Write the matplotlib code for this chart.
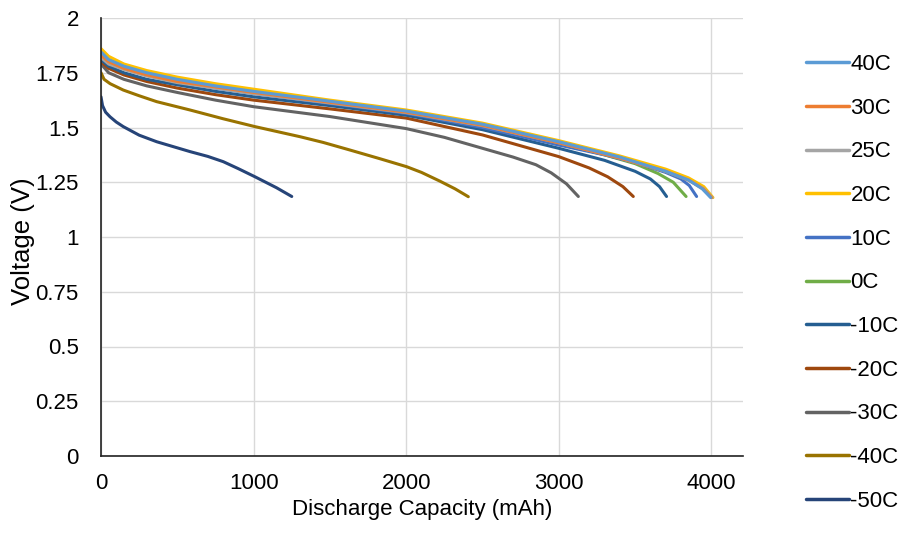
import matplotlib
matplotlib.use("Agg")
import matplotlib.pyplot as plt

plt.rcParams['font.family'] = ['Liberation Sans', 'DejaVu Sans']

labels = ["40C", "30C", "25C", "20C", "10C", "0C", "-10C", "-20C", "-30C", "-40C", "-50C"]
colors = ["#5B9BD5", "#ED7D31", "#A5A5A5", "#FFC000", "#4472C4", "#70AD47",
          "#255E91", "#9E480E", "#636363", "#997300", "#264478"]

cap_40 = [0, 50, 150, 300, 500, 750, 1000, 1500, 2000, 2500, 3000, 3400, 3700, 3850, 3940, 3995]
v_40 = [1.845, 1.81, 1.78, 1.75, 1.72, 1.69, 1.665, 1.62, 1.575, 1.515, 1.435, 1.365, 1.30, 1.26, 1.22, 1.18]
cap_30 = [0, 50, 150, 300, 500, 750, 1000, 1500, 2000, 2500, 3000, 3400, 3700, 3850, 3945, 4000]
v_30 = [1.83, 1.80, 1.77, 1.74, 1.71, 1.685, 1.66, 1.615, 1.57, 1.51, 1.43, 1.36, 1.30, 1.26, 1.22, 1.18]
cap_25 = [0, 50, 150, 300, 500, 750, 1000, 1500, 2000, 2500, 3000, 3400, 3700, 3850, 3950, 4005]
v_25 = [1.82, 1.79, 1.765, 1.735, 1.705, 1.68, 1.655, 1.612, 1.568, 1.508, 1.43, 1.36, 1.30, 1.26, 1.22, 1.18]
cap_20 = [0, 50, 150, 300, 500, 750, 1000, 1500, 2000, 2500, 3000, 3400, 3700, 3850, 3950, 4010]
v_20 = [1.86, 1.825, 1.79, 1.76, 1.73, 1.70, 1.675, 1.625, 1.58, 1.52, 1.44, 1.37, 1.31, 1.27, 1.23, 1.18]
cap_10 = [0, 50, 150, 300, 500, 750, 1000, 1500, 2000, 2500, 3000, 3300, 3500, 3700, 3800, 3855, 3903]
v_10 = [1.83, 1.80, 1.77, 1.74, 1.71, 1.68, 1.655, 1.61, 1.565, 1.50, 1.42, 1.375, 1.34, 1.295, 1.265, 1.235, 1.185]
cap_0 = [0, 50, 150, 300, 500, 750, 1000, 1500, 2000, 2500, 3000, 3300, 3500, 3650, 3750, 3834]
v_0 = [1.845, 1.81, 1.78, 1.745, 1.715, 1.685, 1.66, 1.615, 1.572, 1.505, 1.428, 1.375, 1.335, 1.29, 1.25, 1.185]
cap_m10 = [0, 50, 150, 300, 500, 750, 1000, 1500, 2000, 2500, 3000, 3300, 3500, 3600, 3660, 3706]
v_m10 = [1.81, 1.78, 1.75, 1.72, 1.695, 1.665, 1.64, 1.60, 1.556, 1.49, 1.405, 1.35, 1.30, 1.265, 1.23, 1.185]
cap_m20 = [0, 50, 150, 300, 500, 750, 1000, 1500, 2000, 2500, 3000, 3200, 3320, 3420, 3488]
v_m20 = [1.80, 1.77, 1.74, 1.71, 1.68, 1.65, 1.625, 1.585, 1.543, 1.466, 1.367, 1.315, 1.275, 1.23, 1.185]
cap_m30 = [0, 50, 150, 300, 500, 750, 1000, 1500, 2000, 2250, 2500, 2700, 2850, 2950, 3050, 3128]
v_m30 = [1.79, 1.75, 1.72, 1.69, 1.66, 1.625, 1.595, 1.55, 1.495, 1.455, 1.405, 1.365, 1.33, 1.293, 1.243, 1.185]
cap_m40 = [0, 20, 60, 146, 250, 365, 583, 800, 1009, 1304, 1455, 1632, 1830, 2003, 2100, 2221, 2320, 2407]
v_m40 = [1.75, 1.72, 1.70, 1.671, 1.645, 1.618, 1.58, 1.54, 1.504, 1.458, 1.432, 1.397, 1.357, 1.321, 1.295, 1.255, 1.22, 1.184]
cap_m50 = [0, 10, 30, 59, 100, 146, 250, 365, 583, 700, 801, 900, 1009, 1150, 1250]
v_m50 = [1.64, 1.60, 1.57, 1.549, 1.525, 1.504, 1.465, 1.435, 1.39, 1.368, 1.344, 1.312, 1.275, 1.225, 1.185]

caps = [cap_40, cap_30, cap_25, cap_20, cap_10, cap_0, cap_m10, cap_m20, cap_m30, cap_m40, cap_m50]
volts = [v_40, v_30, v_25, v_20, v_10, v_0, v_m10, v_m20, v_m30, v_m40, v_m50]

x_ticks = [0, 1000, 2000, 3000, 4000]
y_ticks = [0, 0.25, 0.5, 0.75, 1, 1.25, 1.5, 1.75, 2]
y_tick_labels = ["0", "0.25", "0.5", "0.75", "1", "1.25", "1.5", "1.75", "2"]

FS = 16

fig = plt.figure(figsize=(9.04, 5.33), dpi=100)
ax = fig.add_axes([101/904, 1 - 456/533, (743-101)/904, (456-18)/533])

order = list(range(len(labels)))[::-1]
lines = {}
for i in order:
    ln, = ax.plot(caps[i], volts[i], color=colors[i], lw=2.2, label=labels[i],
                  solid_capstyle='round', solid_joinstyle='round')
    lines[i] = ln

ax.set_xlim(0, 4207)
ax.set_ylim(0, 2)
ax.set_xticks(x_ticks)
ax.set_yticks(y_ticks)
ax.set_yticklabels(y_tick_labels)
ax.grid(True, color="#d9d9d9", lw=1)
ax.set_axisbelow(True)
for s in ["top", "right"]:
    ax.spines[s].set_visible(False)
for s in ["left", "bottom"]:
    ax.spines[s].set_color("#222222")
    ax.spines[s].set_linewidth(1.2)
ax.tick_params(axis="y", length=0, labelsize=FS, pad=16)
ax.tick_params(axis="x", length=0, labelsize=FS, pad=12)
ax.set_xlabel("Discharge Capacity (mAh)", fontsize=FS, labelpad=4)
ax.set_ylabel("Voltage (V)", fontsize=18.5)
ax.yaxis.set_label_coords((35 - 101) / 642, 0.49)

handles = [lines[i] for i in range(len(labels))]
leg = fig.legend(handles, labels, loc="upper left", bbox_to_anchor=(806/904, 1 - 54/533),
                 frameon=False, fontsize=FS, handlelength=1.95, handletextpad=0.05,
                 labelspacing=1.02, borderpad=0, borderaxespad=0)
for h in leg.legend_handles:
    h.set_linewidth(2.5)

fig.savefig("out.png", dpi=100)
